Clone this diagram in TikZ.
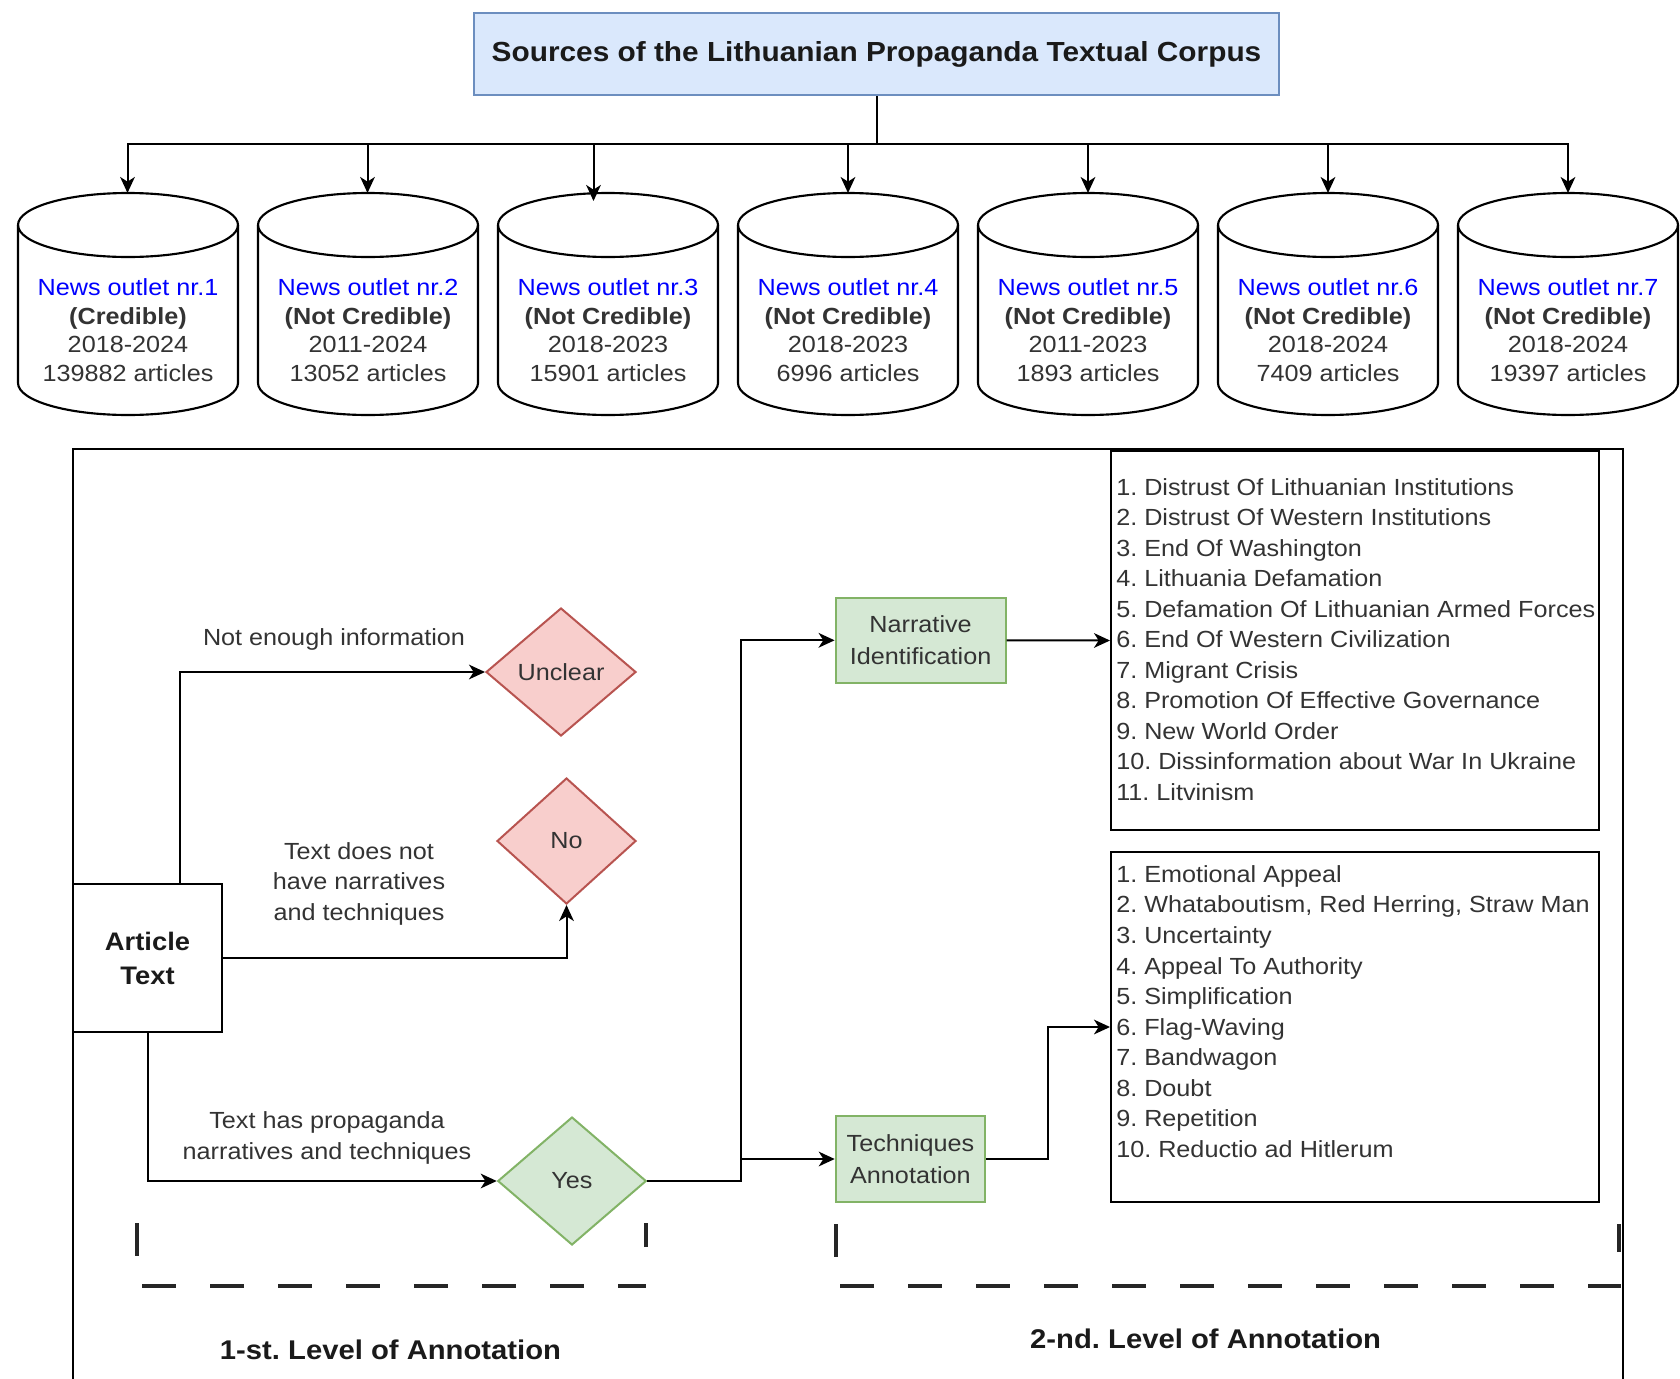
\documentclass[tikz,border=0pt]{standalone}
\usepackage{fontspec}
\setmainfont{Liberation Sans}[FakeStretch=1.08]
\usetikzlibrary{arrows.meta,shapes.geometric}
\frenchspacing
\definecolor{txt}{HTML}{333333}
\definecolor{dark}{HTML}{1A1A1A}
\definecolor{outlet}{HTML}{0000FF}
\definecolor{bluefill}{HTML}{DAE8FC}
\definecolor{bluedraw}{HTML}{6C8EBF}
\definecolor{redfill}{HTML}{F8CECC}
\definecolor{reddraw}{HTML}{B85450}
\definecolor{greenfill}{HTML}{D5E8D4}
\definecolor{greendraw}{HTML}{82B366}
\begin{document}
\begin{tikzpicture}[x=0.75pt,y=-0.75pt,
  conn/.style={line width=1.5pt, draw=black},
  arr/.style={conn, -{Stealth[length=12pt,width=11pt,inset=3.5pt]}},
  titlebox/.style={draw=bluedraw, fill=bluefill, line width=1.5pt, minimum width=603.75pt, minimum height=61.5pt, inner sep=0pt, font=\fontsize{20.7}{24}\selectfont\bfseries, text=dark},
  cyltext/.style={align=center, inner sep=0pt, font=\fontsize{17.5}{21.5}\selectfont, text=txt},
  cylline/.style={line width=1.6pt, draw=black, fill=white},
  artbox/.style={draw=black, line width=1.5pt, minimum width=111.75pt, minimum height=111pt, inner sep=0pt, align=center, font=\fontsize{19}{25.5}\selectfont\bfseries, text=dark},
  dia/.style={diamond, inner sep=0pt, line width=1.5pt, font=\fontsize{17.5}{21}\selectfont, text=txt},
  reddia/.style={dia, fill=redfill, draw=reddraw},
  greendia/.style={dia, fill=greenfill, draw=greendraw},
  gbox/.style={draw=greendraw, fill=greenfill, line width=1.5pt, inner sep=0pt, align=center, font=\fontsize{17.5}{23.5}\selectfont, text=txt},
  listbox/.style={draw=black, line width=1.5pt, inner sep=0pt},
  listtext/.style={align=left, anchor=west, inner sep=0pt, font=\fontsize{17.5}{22.9}\selectfont, text=txt},
  lbl/.style={align=center, inner sep=0pt, font=\fontsize{17.5}{22.9}\selectfont, text=txt},
  lvl/.style={inner sep=0pt, font=\fontsize{20.3}{24}\selectfont\bfseries, text=dark},
  bracketline/.style={line width=3pt, draw=black!85, dash pattern=on 25.5pt off 25.5pt},
  frameline/.style={line width=1.1pt, draw=black}
]
\useasboundingbox (0,0) rectangle (1680,1378);

% ---------- top part ----------
\node[titlebox] (title) at (876.5,54) {Sources of the Lithuanian Propaganda Textual Corpus};

\foreach \x in {128,368,608,848,1088,1328,1568}{
  \draw[cylline] (\x-110,225) -- (\x-110,383)
     arc[start angle=180,end angle=360,x radius=82.5pt,y radius=24pt]
     -- (\x+110,225)
     arc[start angle=0,end angle=180,x radius=82.5pt,y radius=24pt] -- cycle;
  \draw[cylline, fill=none] (\x-110,225)
     arc[start angle=180,end angle=360,x radius=82.5pt,y radius=24pt];
}

\node[cyltext] (o1) at (128,330) {\textcolor{outlet}{News outlet nr.1}\\\textbf{(Credible)}\\2018-2024\\139882 articles};
\node[cyltext] (o2) at (368,330) {\textcolor{outlet}{News outlet nr.2}\\\textbf{(Not Credible)}\\2011-2024\\13052 articles};
\node[cyltext] (o3) at (608,330) {\textcolor{outlet}{News outlet nr.3}\\\textbf{(Not Credible)}\\2018-2023\\15901 articles};
\node[cyltext] (o4) at (848,330) {\textcolor{outlet}{News outlet nr.4}\\\textbf{(Not Credible)}\\2018-2023\\6996 articles};
\node[cyltext] (o5) at (1088,330) {\textcolor{outlet}{News outlet nr.5}\\\textbf{(Not Credible)}\\2011-2023\\1893 articles};
\node[cyltext] (o6) at (1328,330) {\textcolor{outlet}{News outlet nr.6}\\\textbf{(Not Credible)}\\2018-2024\\7409 articles};
\node[cyltext] (o7) at (1568,330) {\textcolor{outlet}{News outlet nr.7}\\\textbf{(Not Credible)}\\2018-2024\\19397 articles};

\coordinate (top1) at (127.5,193);
\coordinate (top2) at (367.5,193);
\coordinate (top3) at (593.5,201);
\coordinate (top4) at (848,193);
\coordinate (top5) at (1088,193);
\coordinate (top6) at (1328,193);
\coordinate (top7) at (1568,193);
\coordinate (bus) at (0,144);
\foreach \i in {1,...,7}{
  \draw[arr] (title.south) -- (title.south |- bus) -| (top\i);
}

% ---------- lower frame ----------
\draw[frameline] (73,1400) -- (73,449) -- (1623,449) -- (1623,1400);

\node[artbox] (art) at (147.5,958) {Article\\Text};

\node[reddia, minimum width=112.5pt, minimum height=96pt] (unclear) at (561,672) {Unclear};
\node[reddia, minimum width=104.25pt, minimum height=94.5pt] (no) at (566.5,841) {No};
\node[greendia, minimum width=111.4pt, minimum height=96pt] (yes) at (572,1181) {Yes};

\node[gbox, minimum width=127.5pt, minimum height=63.75pt] (narr) at (920.6,640.3) {Narrative\\Identification};
\node[gbox, minimum width=112pt, minimum height=64.5pt] (tech) at (910.4,1159) {Techniques\\Annotation};

\node[listbox, minimum width=366pt, minimum height=284.25pt] (narrlist) at (1355,640.5) {};
\node[listtext] (narrtext) at (1116,639.5) {1. Distrust Of Lithuanian Institutions\\2. Distrust Of Western Institutions\\3. End Of Washington\\4. Lithuania Defamation\\5. Defamation Of Lithuanian Armed Forces\\6. End Of Western Civilization\\7. Migrant Crisis\\8. Promotion Of Effective Governance\\9. New World Order\\10. Dissinformation about War In Ukraine\\11. Litvinism};

\node[listbox, minimum width=366pt, minimum height=262.5pt] (techlist) at (1355,1027) {};
\node[listtext] (techtext) at (1116,1011.5) {1. Emotional Appeal\\2. Whataboutism, Red Herring, Straw Man\\3. Uncertainty\\4. Appeal To Authority\\5. Simplification\\6. Flag-Waving\\7. Bandwagon\\8. Doubt\\9. Repetition\\10. Reductio ad Hitlerum};

% connectors
\draw[arr] ([xshift=24pt]art.north) |- (unclear.west);
\node[lbl] (l1) at (334,639) {Not enough information};
\draw[arr] (art.east) -| (no.south);
\node[lbl] (l2) at (359,883.5) {Text does not\\have narratives\\and techniques};
\draw[arr] (art.south) |- (yes.west);
\node[lbl] (l3) at (327,1138) {Text has propaganda\\narratives and techniques};

\coordinate (j) at (741,1181);
\draw[arr] (yes.east) -- (j) |- (narr.west);
\draw[arr] (j) |- (tech.west);
\draw[arr] (narr.east) -- (narrlist.west);
\coordinate (k) at (1048,1159);
\draw[arr] (tech.east) -- (k) |- (techlist.west);

% level brackets
\draw[bracketline] (137,1223) -- (137,1256) (142,1286) -- (646,1286) (645.5,1247) -- (645.5,1223);
\draw[bracketline] (836,1224) -- (836,1257) (840,1286) -- (1621,1286) (1619,1252) -- (1619,1224);

\node[lvl] (lvl1) at (390.5,1350) {1-st. Level of Annotation};
\node[lvl] (lvl2) at (1205.6,1339) {2-nd. Level of Annotation};
\end{tikzpicture}
\end{document}
